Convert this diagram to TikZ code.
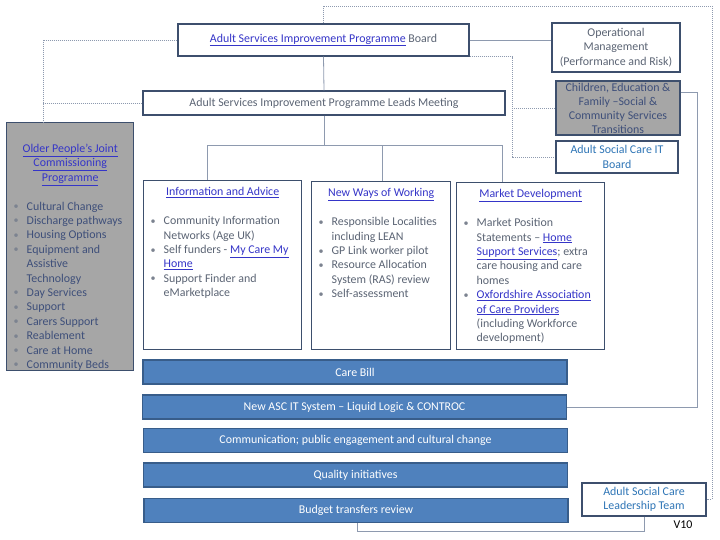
\documentclass[tikz,border=0pt]{standalone}
\usepackage{fontspec}
\setmainfont{Carlito}
\usepackage{xcolor}
\usepackage{graphicx}
\usepackage{tikz}
\definecolor{boxline}{HTML}{3D4F6D}
\definecolor{txtgray}{HTML}{5B6474}
\definecolor{oldtxt}{HTML}{3E4F7A}
\definecolor{linkblue}{HTML}{3535C8}
\definecolor{ascblue}{HTML}{2E75B6}
\definecolor{greyfill}{HTML}{A6A6A6}
\definecolor{barfill}{HTML}{4F81BD}
\definecolor{barline}{HTML}{385D8A}
\definecolor{connline}{HTML}{8E9AAF}
\newcommand{\bodyfont}{\fontsize{11.9}{14.4}\selectfont}
\newcommand{\lnk}[1]{\textcolor{linkblue}{\underline{#1}}}
\newcommand{\blt}{\par\noindent\hangindent=13pt\hangafter=1%
  \makebox[13pt][l]{\textcolor{txtgray!80}{\raisebox{0.5pt}{\scalebox{0.85}{\textbullet}}}}}

\begin{document}
\begin{tikzpicture}[x=1pt,y=-1pt,
  frame/.style={draw=boxline,line width=1.4pt,fill=white,text=txtgray,font=\bodyfont},
  box/.style={frame,align=center,inner sep=0pt},
  greybox/.style={box,fill=greyfill},
  listbox/.style={frame,anchor=north west,inner xsep=7pt,inner ysep=7pt},
  bar/.style={draw=barline,line width=1.2pt,fill=barfill,text=white,font=\bodyfont,
    minimum width=424pt,minimum height=24pt,inner sep=0pt},
  conn/.style={draw=connline,line width=0.8pt},
  dot/.style={draw=connline,line width=0.8pt,dash pattern=on 1pt off 1pt}]
\useasboundingbox (0,0) rectangle (720,540);
% board and leads meeting
\node[box,minimum width=291pt,minimum height=32pt] (board) at (323.5,40)
  {\lnk{Adult Services Improvement Programme} Board};
\node[box,minimum width=362pt,minimum height=24pt] (leads) at (324,103)
  {Adult Services Improvement Programme Leads Meeting};
% right hand boxes
\node[box,minimum width=128pt,minimum height=49pt] (opm) at (616,47.5)
  {Operational\\Management\\(Performance and Risk)};
\node[greybox,text=oldtxt,minimum width=124pt,minimum height=54pt,
  font=\fontsize{11.9}{14}\selectfont] (cef) at (618,108)
  {Children, Education \&\\Family --Social \&\\Community Services\\Transitions};
\node[box,text=ascblue,minimum width=122pt,minimum height=32pt] (itb) at (617,157)
  {Adult Social Care IT\\Board};
\node[box,text=ascblue,minimum width=124pt,minimum height=33pt] (leader) at (644,499.5)
  {Adult Social Care\\Leadership Team};
% older people's programme
\node[listbox,fill=greyfill,text=oldtxt] (older) at (6,122)
  {\parbox[t][234pt][t]{113pt}{\vspace*{14.4pt}%
  {\centering\lnk{Older People’s Joint}\\\lnk{Commissioning}\\\lnk{Programme}\par}
  \vskip 14.4pt\raggedright
  \blt Cultural Change
  \blt Discharge pathways
  \blt Housing Options
  \blt Equipment and\newline Assistive\newline Technology
  \blt Day Services
  \blt Support
  \blt Carers Support
  \blt Reablement
  \blt Care at Home
  \blt Community Beds}};
% three work streams
\node[listbox] (info) at (143,180)
  {\parbox[t][155pt][t]{144pt}{%
  {\centering\lnk{Information and Advice}\par}
  \vskip 14.4pt\raggedright
  \blt Community Information\newline Networks (Age UK)
  \blt Self funders - \lnk{My Care My}\newline \lnk{Home}
  \blt Support Finder and\newline eMarketplace}};
\node[listbox] (ways) at (311,181)
  {\parbox[t][154pt][t]{125pt}{%
  {\centering\lnk{New Ways of Working}\par}
  \vskip 14.4pt\raggedright
  \blt Responsible Localities\newline including LEAN
  \blt GP Link worker pilot
  \blt Resource Allocation\newline System (RAS) review
  \blt Self-assessment}};
\node[listbox] (market) at (456,182)
  {\parbox[t][153pt][t]{134pt}{%
  {\centering\lnk{Market Development}\par}
  \vskip 14.4pt\raggedright
  \blt Market Position\newline Statements -- \lnk{Home}\newline \lnk{Support Services}; extra\newline care housing and care\newline homes
  \blt \lnk{Oxfordshire Association}\newline \lnk{of Care Providers}\newline (including Workforce\newline development)}};
% cross cutting bars
\node[bar] (carebill) at (355,372) {Care Bill};
\node[bar] (itsys) at (354.5,407) {New ASC IT System -- Liquid Logic \& CONTROC};
\node[bar] (comms) at (355.5,440.5) {Communication; public engagement and cultural change};
\node[bar] (quality) at (355.5,475) {Quality initiatives};
\node[bar] (budget) at (356,510.5) {Budget transfers review};
\node[font=\fontsize{11.9}{13}\selectfont] (ver) at (683,525) {V10};
% solid connectors
\draw[conn] (board.south) -- (leads.north);
\draw[conn] (leads.south) -- (leads.south |- 0,145);
\draw[conn] (207,0 |- info.north) -- (207,145) -- (502,145) -- (502,0 |- market.north);
\draw[conn] (382,0 |- ways.north) -- (382,145);
\draw[conn] (board.east) -- (board.east -| opm.west);
\draw[conn] (cef.east |- 0,92) -- (697,92) |- (itsys.east);
\draw[conn] (leader.south) -- ++(0,15) -| (357,0 |- budget.south);
% dotted connectors
\draw[dot] (board.north) |- (712,6) |- (leader.east);
\draw[dot] (board.south east) -| (512,0 |- itb.west) -- (itb.west);
\draw[dot] (512,0 |- cef.west) -- (cef.west);
\draw[dot] (board.west) -| (43,0 |- older.north);
\draw[dot] (leads.west) -- (43,0 |- leads.west);
\end{tikzpicture}
\end{document}
